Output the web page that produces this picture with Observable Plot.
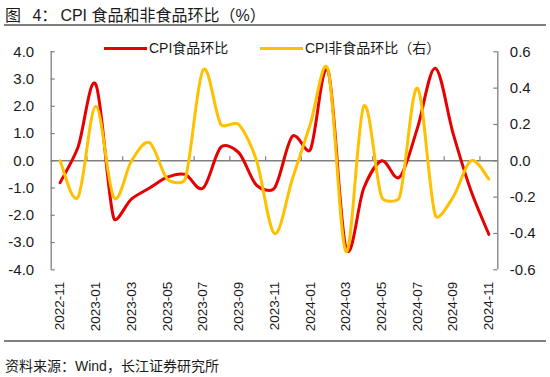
<!DOCTYPE html>
<html><head><meta charset="utf-8">
<script src="https://cdn.jsdelivr.net/npm/d3@7"></script>
<script src="https://cdn.jsdelivr.net/npm/@observablehq/plot@0.6"></script>
<style>
body{margin:0;background:#fff;}
#wrap{position:relative;width:550px;height:377px;overflow:hidden;font-family:"Liberation Sans",Arial,"Noto Sans CJK SC",sans-serif;color:#1a1a1a;}
#wrap svg{position:absolute;left:0;top:0;}
.abs{position:absolute;white-space:nowrap;}
#title{left:5px;top:6px;font-size:16px;line-height:20px;}
#title .g{margin-left:7px;}
#title .c{margin-right:3px;}
#tline{left:4px;top:24px;width:542px;height:2px;background:#7f7f7f;}
#bline{left:4px;top:340px;width:542px;height:1.5px;background:#7f7f7f;}
#source{left:5px;top:357px;font-size:14px;line-height:18px;}
.sw{height:3px;width:43px;top:46.8px;}
.lt{font-size:14px;line-height:16px;top:40px;}
</style></head><body>
<div id="wrap">
  <div class="abs" id="title">图 <span class="g">4</span><span class="c">：</span>CPI 食品和非食品环比（%）</div>
  <div class="abs" id="tline"></div>
  <div class="abs sw" style="left:104px;background:#e60000"></div>
  <div class="abs lt" style="left:149px">CPI食品环比</div>
  <div class="abs sw" style="left:260px;background:#ffc000"></div>
  <div class="abs lt" style="left:305px">CPI非食品环比（右）</div>
  <div class="abs" id="bline"></div>
  <div class="abs" id="source">资料来源：Wind，长江证券研究所</div>
</div>
<script>
const months = ["2022-11","2022-12","2023-01","2023-02","2023-03","2023-04","2023-05","2023-06","2023-07","2023-08","2023-09","2023-10","2023-11","2023-12","2024-01","2024-02","2024-03","2024-04","2024-05","2024-06","2024-07","2024-08","2024-09","2024-10","2024-11"];
const food = [-0.8,0.5,2.8,-2.1,-1.4,-1.0,-0.6,-0.5,-1.0,0.5,0.3,-0.9,-1.0,0.9,0.4,3.3,-3.2,-1.0,0.0,-0.6,1.2,3.4,1.0,-1.1,-2.7];
const nonfood = [0.0,-0.2,0.3,-0.2,0.0,0.1,-0.1,-0.1,0.5,0.2,0.2,0.0,-0.4,-0.1,0.2,0.5,-0.5,0.3,-0.2,-0.2,0.4,-0.3,-0.2,0.0,-0.1];
const leftTicks = [-4,-3,-2,-1,0,1,2,3,4];
const rightTicks = [-0.6,-0.4,-0.2,0,0.2,0.4,0.6];

const k = 4 / 0.6;
const n = months.length;
const rows = months.map((m, i) => ({i, m, food: food[i], nonfood: nonfood[i]}));
const labelIdx = d3.range(0, n, 2);
const bounds = d3.range(1.5, n - 1, 2);
const gray = "#7f7f7f";
const xl = -0.5, xr = n - 0.5;
const tx = 0.224, ty = 0.147;

// Spreadsheet-style smoothing: Bezier with tangents (P[i+1]-P[i-1])/6,
// each handle capped at a fraction of the adjacent segment length.
function smooth(context) {
  let pts = [];
  const cap = 0.33;
  const dist = (a, b) => Math.hypot(b[0] - a[0], b[1] - a[1]);
  function ctrl(p0, p1, p2, side) {
    const tX = (p2[0] - p0[0]) / 6, tY = (p2[1] - p0[1]) / 6;
    const tl = Math.hypot(tX, tY);
    const seg = side > 0 ? dist(p1, p2) : dist(p0, p1);
    const s = tl > 0 ? Math.min(1, cap * seg / tl) : 0;
    return [p1[0] + side * tX * s, p1[1] + side * tY * s];
  }
  return {
    areaStart() {}, areaEnd() {},
    lineStart() { pts = []; },
    point(x, y) { pts.push([+x, +y]); },
    lineEnd() {
      const m = pts.length;
      if (!m) return;
      context.moveTo(pts[0][0], pts[0][1]);
      for (let i = 0; i < m - 1; i++) {
        const p0 = pts[Math.max(i - 1, 0)], p1 = pts[i], p2 = pts[i + 1], p3 = pts[Math.min(i + 2, m - 1)];
        const c1 = ctrl(p0, p1, p2, 1), c2 = ctrl(p1, p2, p3, -1);
        context.bezierCurveTo(c1[0], c1[1], c2[0], c2[1], p2[0], p2[1]);
      }
    }
  };
}

const chart = Plot.plot({
  width: 550, height: 377,
  marginTop: 51.3, marginBottom: 107.7, marginLeft: 50.7, marginRight: 52.7,
  style: {fontFamily: '"Liberation Sans", Arial, "Noto Sans CJK SC", sans-serif', fontSize: "15px", color: "#1a1a1a", background: "transparent"},
  x: {type: "linear", domain: [xl, xr], label: null},
  y: {domain: [-4, 4], label: null},
  marks: [
    Plot.ruleY([0], {stroke: gray, strokeWidth: 1.5}),
    Plot.ruleX([xl, xr], {stroke: gray, strokeWidth: 1.3}),
    Plot.ruleX(bounds, {x: d => d, y1: 0, y2: ty, stroke: gray, strokeWidth: 1.2}),
    Plot.ruleY(leftTicks, {y: d => d, x1: xl, x2: xl + tx, stroke: gray, strokeWidth: 1.2}),
    Plot.ruleY(rightTicks.map(t => t * k), {y: d => d, x1: xr - tx, x2: xr, stroke: gray, strokeWidth: 1.2}),
    Plot.axisY(leftTicks, {anchor: "left", tickSize: 0, tickPadding: 17, tickFormat: d => d.toFixed(1), fontSize: 15}),
    Plot.axisY(rightTicks.map(t => t * k), {anchor: "right", tickSize: 0, tickPadding: 12, tickFormat: d => (d / k).toFixed(1), fontSize: 15}),
    Plot.axisX(labelIdx, {anchor: "bottom", tickSize: 0, tickPadding: 12, tickRotate: -90, tickFormat: i => months[i], fontSize: 13.5}),
    Plot.line(rows, {x: "i", y: "food", stroke: "#e60000", strokeWidth: 3, curve: smooth}),
    Plot.line(rows, {x: "i", y: d => d.nonfood * k, stroke: "#ffc000", strokeWidth: 3, curve: smooth})
  ]
});
document.getElementById("wrap").prepend(chart);
</script>
</body></html>
